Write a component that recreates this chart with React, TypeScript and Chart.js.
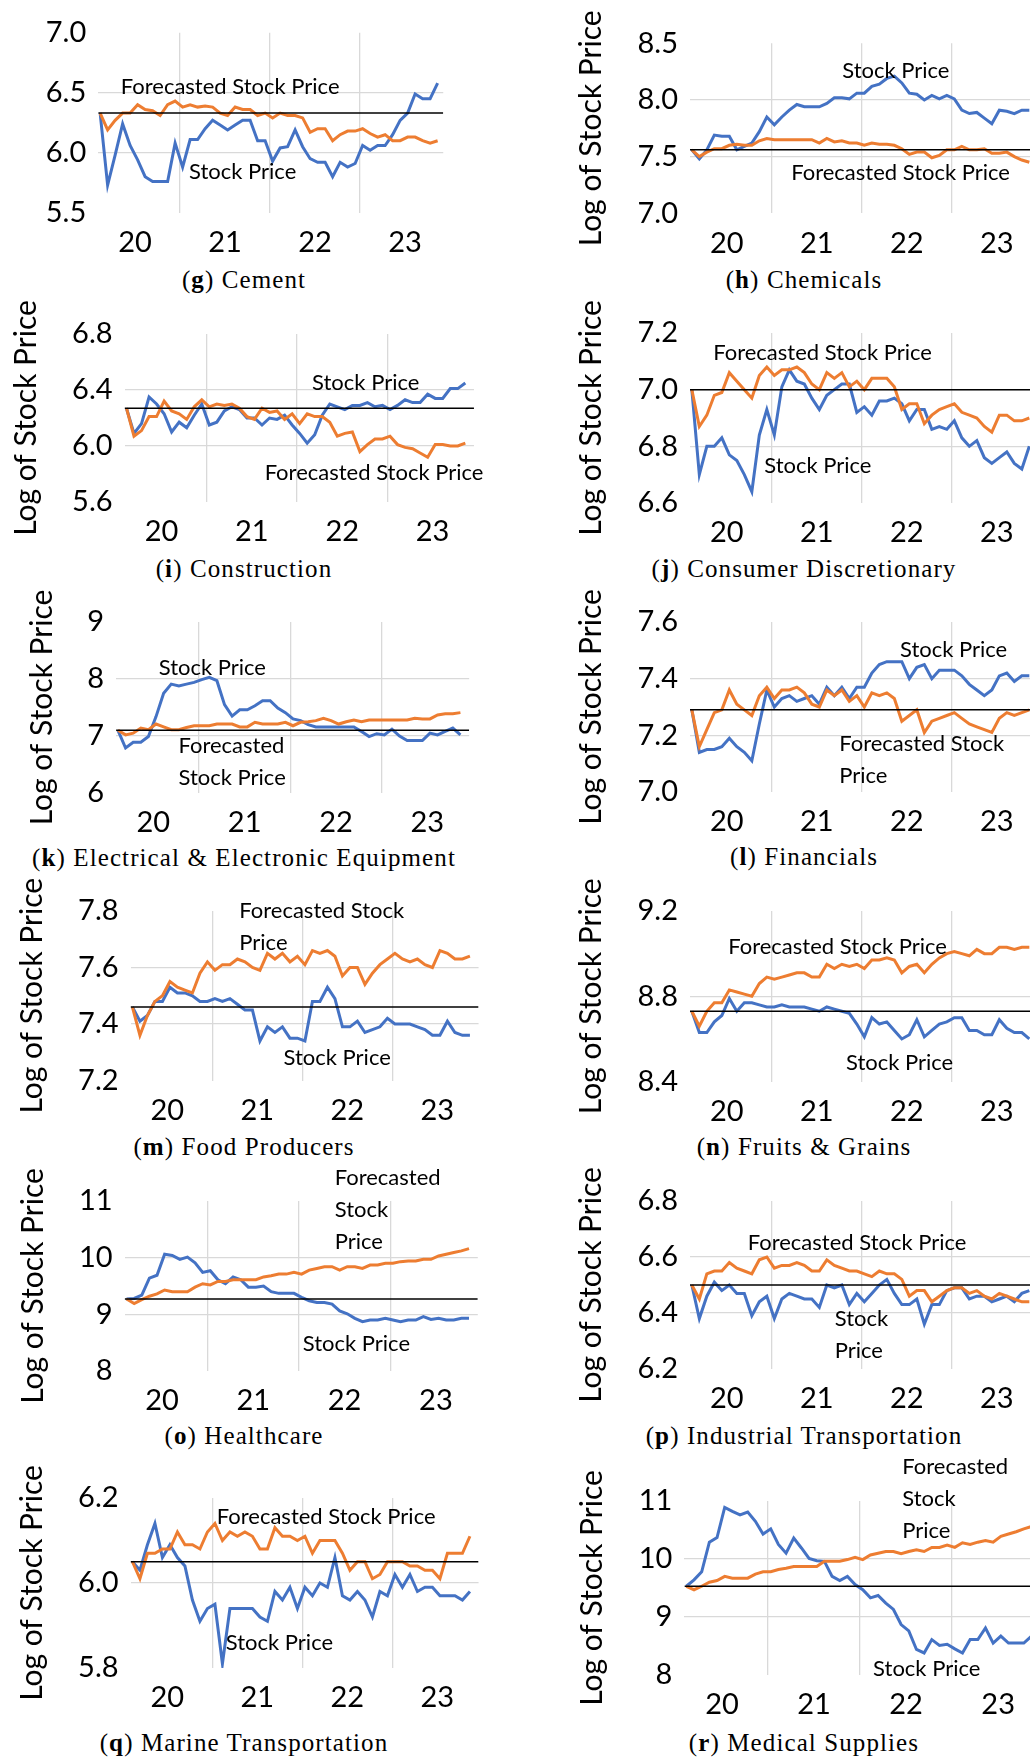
import React, { useEffect, useRef } from 'react';
import { Chart, registerables } from 'chart.js';
Chart.register(...registerables);

const BLUE = '#4472C4';
const ORANGE = '#ED7D31';
const GRID = '#D9D9D9';
const CLEAR = 'rgba(0,0,0,0)';

// x axis: months since Jan 2020; year labels centred between year boundaries
const YEAR_LABELS = ['20', '21', '22', '23'];
const YEAR_MID = [6, 18, 30, 42];
const YEAR_BOUNDS = [12, 24, 36];
const FIRST_MONTH = 1.35;
const X_MIN = 1.1;

// ---------------- data (log of stock price) ----------------
const cementStock = [6.33, 5.73, 5.98, 6.24, 6.06, 5.94, 5.8, 5.76, 5.76, 5.76, 6.08, 5.88, 6.11, 6.11, 6.2, 6.27, 6.23, 6.19, 6.23, 6.27, 6.27, 6.1, 6.1, 5.93, 6.04, 6.05, 6.19, 6.05, 5.95, 5.92, 5.92, 5.8, 5.92, 5.88, 5.91, 6.06, 6.02, 6.06, 6.06, 6.15, 6.27, 6.33, 6.49, 6.45, 6.45, 6.58];
const cementForecast = [6.33, 6.19, 6.27, 6.33, 6.33, 6.4, 6.36, 6.35, 6.31, 6.4, 6.43, 6.38, 6.4, 6.38, 6.39, 6.38, 6.33, 6.31, 6.38, 6.36, 6.36, 6.31, 6.33, 6.29, 6.33, 6.31, 6.31, 6.29, 6.17, 6.2, 6.2, 6.1, 6.15, 6.18, 6.18, 6.2, 6.16, 6.13, 6.15, 6.1, 6.1, 6.13, 6.13, 6.1, 6.08, 6.1];
const cementTicks = [5.5, 6.0, 6.5, 7.0];

const chemStock = [7.56, 7.48, 7.56, 7.69, 7.68, 7.68, 7.56, 7.59, 7.62, 7.72, 7.85, 7.78, 7.85, 7.91, 7.96, 7.94, 7.94, 7.94, 7.97, 8.02, 8.02, 8.01, 8.06, 8.06, 8.12, 8.14, 8.19, 8.21, 8.15, 8.06, 8.05, 8.0, 8.04, 8.01, 8.04, 8.01, 7.91, 7.88, 7.89, 7.84, 7.79, 7.91, 7.9, 7.88, 7.91, 7.91];
const chemForecast = [7.56, 7.5, 7.54, 7.57, 7.57, 7.6, 7.61, 7.6, 7.6, 7.64, 7.66, 7.65, 7.65, 7.65, 7.65, 7.65, 7.65, 7.62, 7.66, 7.63, 7.64, 7.62, 7.62, 7.6, 7.62, 7.61, 7.61, 7.6, 7.57, 7.52, 7.54, 7.54, 7.49, 7.51, 7.56, 7.56, 7.59, 7.56, 7.56, 7.57, 7.53, 7.53, 7.54, 7.5, 7.47, 7.45];
const chemTicks = [7.0, 7.5, 8.0, 8.5];

const constrStock = [6.27, 6.09, 6.16, 6.35, 6.3, 6.23, 6.1, 6.17, 6.13, 6.22, 6.3, 6.15, 6.17, 6.25, 6.28, 6.26, 6.2, 6.2, 6.15, 6.2, 6.19, 6.22, 6.15, 6.09, 6.02, 6.08, 6.22, 6.3, 6.28, 6.26, 6.29, 6.29, 6.31, 6.28, 6.29, 6.26, 6.29, 6.33, 6.31, 6.31, 6.37, 6.34, 6.34, 6.41, 6.41, 6.45];
const constrForecast = [6.27, 6.07, 6.11, 6.21, 6.21, 6.32, 6.25, 6.23, 6.19, 6.28, 6.33, 6.28, 6.3, 6.29, 6.3, 6.27, 6.21, 6.19, 6.27, 6.24, 6.25, 6.19, 6.23, 6.16, 6.23, 6.21, 6.21, 6.17, 6.07, 6.09, 6.1, 5.96, 6.01, 6.05, 6.05, 6.07, 6.01, 5.99, 5.98, 5.95, 5.92, 6.01, 6.01, 6.0, 6.0, 6.02];
const constrTicks = [5.6, 6.0, 6.4, 6.8];

const consStock = [7.0, 6.7, 6.8, 6.8, 6.83, 6.77, 6.75, 6.7, 6.64, 6.84, 6.93, 6.84, 7.01, 7.07, 7.03, 7.02, 6.97, 6.93, 6.98, 7.0, 7.02, 7.02, 6.92, 6.94, 6.91, 6.96, 6.96, 6.97, 6.95, 6.89, 6.93, 6.93, 6.86, 6.87, 6.86, 6.89, 6.83, 6.8, 6.82, 6.76, 6.74, 6.76, 6.78, 6.74, 6.72, 6.8];
const consForecast = [7.0, 6.87, 6.91, 6.98, 6.99, 7.06, 7.03, 7.0, 6.97, 7.05, 7.08, 7.05, 7.07, 7.07, 7.08, 7.06, 7.02, 7.0, 7.06, 7.04, 7.06, 7.01, 7.03, 7.0, 7.04, 7.04, 7.04, 7.01, 6.93, 6.95, 6.95, 6.88, 6.91, 6.93, 6.94, 6.95, 6.92, 6.91, 6.9, 6.87, 6.85, 6.91, 6.91, 6.89, 6.89, 6.9];
const consTicks = [6.6, 6.8, 7.0, 7.2];

const elecStock = [7.1, 6.79, 6.89, 6.89, 6.99, 7.34, 7.75, 7.91, 7.88, 7.91, 7.94, 7.99, 8.03, 7.97, 7.55, 7.35, 7.46, 7.46, 7.53, 7.62, 7.62, 7.49, 7.41, 7.3, 7.27, 7.2, 7.16, 7.16, 7.16, 7.16, 7.16, 7.16, 7.08, 6.99, 7.04, 7.02, 7.12, 7.0, 6.92, 6.92, 6.92, 7.05, 7.02, 7.08, 7.14, 7.02];
const elecForecast = [7.1, 7.02, 7.05, 7.14, 7.11, 7.21, 7.16, 7.11, 7.11, 7.15, 7.18, 7.18, 7.18, 7.21, 7.21, 7.21, 7.16, 7.16, 7.24, 7.21, 7.21, 7.21, 7.24, 7.18, 7.24, 7.25, 7.27, 7.31, 7.27, 7.21, 7.25, 7.28, 7.25, 7.28, 7.28, 7.28, 7.28, 7.28, 7.28, 7.31, 7.3, 7.3, 7.37, 7.39, 7.39, 7.41];
const elecTicks = [6, 7, 8, 9];

const finStock = [7.29, 7.14, 7.15, 7.15, 7.16, 7.19, 7.16, 7.14, 7.11, 7.24, 7.36, 7.3, 7.33, 7.34, 7.32, 7.33, 7.34, 7.31, 7.37, 7.34, 7.37, 7.33, 7.37, 7.37, 7.42, 7.45, 7.46, 7.46, 7.46, 7.4, 7.44, 7.45, 7.4, 7.43, 7.43, 7.43, 7.41, 7.38, 7.36, 7.34, 7.36, 7.41, 7.42, 7.39, 7.41, 7.41];
const finForecast = [7.29, 7.16, 7.22, 7.28, 7.29, 7.36, 7.31, 7.29, 7.27, 7.34, 7.37, 7.33, 7.36, 7.36, 7.37, 7.35, 7.31, 7.3, 7.36, 7.34, 7.36, 7.32, 7.34, 7.3, 7.35, 7.34, 7.35, 7.33, 7.25, 7.27, 7.29, 7.21, 7.25, 7.26, 7.27, 7.28, 7.26, 7.24, 7.23, 7.22, 7.21, 7.26, 7.28, 7.27, 7.28, 7.29];
const finTicks = [7.0, 7.2, 7.4, 7.6];

const foodStock = [7.46, 7.41, 7.43, 7.48, 7.48, 7.53, 7.51, 7.51, 7.5, 7.48, 7.48, 7.49, 7.48, 7.49, 7.47, 7.45, 7.45, 7.34, 7.39, 7.37, 7.39, 7.35, 7.35, 7.34, 7.48, 7.48, 7.53, 7.49, 7.39, 7.39, 7.41, 7.37, 7.38, 7.39, 7.42, 7.4, 7.4, 7.4, 7.39, 7.38, 7.36, 7.36, 7.41, 7.37, 7.36, 7.36];
const foodForecast = [7.46, 7.36, 7.43, 7.48, 7.5, 7.55, 7.53, 7.52, 7.51, 7.58, 7.62, 7.59, 7.61, 7.61, 7.63, 7.62, 7.6, 7.59, 7.65, 7.63, 7.65, 7.62, 7.64, 7.61, 7.66, 7.65, 7.66, 7.64, 7.57, 7.6, 7.6, 7.54, 7.58, 7.61, 7.63, 7.65, 7.63, 7.62, 7.63, 7.61, 7.6, 7.66, 7.65, 7.63, 7.63, 7.64];
const foodTicks = [7.2, 7.4, 7.6, 7.8];

const fruitStock = [8.73, 8.63, 8.63, 8.68, 8.71, 8.79, 8.73, 8.77, 8.77, 8.76, 8.75, 8.75, 8.76, 8.75, 8.75, 8.75, 8.74, 8.73, 8.75, 8.74, 8.73, 8.72, 8.67, 8.61, 8.7, 8.67, 8.68, 8.64, 8.6, 8.62, 8.69, 8.61, 8.64, 8.67, 8.68, 8.7, 8.7, 8.64, 8.64, 8.62, 8.62, 8.69, 8.65, 8.63, 8.63, 8.6];
const fruitForecast = [8.73, 8.66, 8.73, 8.77, 8.77, 8.83, 8.82, 8.81, 8.8, 8.86, 8.89, 8.88, 8.89, 8.9, 8.91, 8.91, 8.89, 8.89, 8.95, 8.93, 8.95, 8.94, 8.95, 8.93, 8.97, 8.97, 8.98, 8.97, 8.91, 8.94, 8.95, 8.91, 8.95, 8.98, 9.0, 9.01, 9.0, 8.99, 9.02, 9.0, 9.0, 9.03, 9.03, 9.02, 9.03, 9.03];
const fruitTicks = [8.4, 8.8, 9.2];

const healthStock = [9.27, 9.28, 9.34, 9.64, 9.69, 10.06, 10.04, 9.97, 10.01, 9.91, 9.74, 9.77, 9.61, 9.54, 9.66, 9.61, 9.48, 9.48, 9.5, 9.4, 9.37, 9.37, 9.37, 9.3, 9.24, 9.21, 9.21, 9.18, 9.06, 9.01, 8.93, 8.87, 8.9, 8.9, 8.93, 8.9, 8.87, 8.9, 8.9, 8.96, 8.91, 8.93, 8.9, 8.9, 8.93, 8.93];
const healthForecast = [9.27, 9.19, 9.26, 9.32, 9.36, 9.43, 9.4, 9.4, 9.4, 9.48, 9.54, 9.52, 9.58, 9.58, 9.61, 9.61, 9.61, 9.61, 9.66, 9.68, 9.71, 9.71, 9.74, 9.71, 9.78, 9.81, 9.84, 9.84, 9.78, 9.84, 9.84, 9.81, 9.87, 9.87, 9.9, 9.9, 9.93, 9.94, 9.94, 9.97, 9.97, 10.03, 10.06, 10.09, 10.12, 10.16];
const healthTicks = [8, 9, 10, 11];

const indStock = [6.5, 6.38, 6.46, 6.51, 6.48, 6.5, 6.47, 6.47, 6.39, 6.44, 6.46, 6.38, 6.45, 6.47, 6.46, 6.45, 6.45, 6.42, 6.5, 6.49, 6.5, 6.43, 6.47, 6.44, 6.47, 6.5, 6.52, 6.47, 6.43, 6.43, 6.45, 6.36, 6.43, 6.43, 6.48, 6.49, 6.49, 6.45, 6.46, 6.46, 6.44, 6.45, 6.46, 6.44, 6.47, 6.48];
const indForecast = [6.5, 6.45, 6.54, 6.55, 6.55, 6.58, 6.56, 6.55, 6.54, 6.59, 6.6, 6.56, 6.57, 6.57, 6.58, 6.57, 6.55, 6.55, 6.59, 6.57, 6.56, 6.55, 6.55, 6.54, 6.53, 6.55, 6.54, 6.54, 6.52, 6.46, 6.48, 6.48, 6.44, 6.46, 6.48, 6.49, 6.49, 6.47, 6.48, 6.46, 6.45, 6.47, 6.46, 6.45, 6.44, 6.44];
const indTicks = [6.2, 6.4, 6.6, 6.8];

const marineStock = [6.05, 6.03, 6.09, 6.14, 6.06, 6.09, 6.06, 6.04, 5.96, 5.91, 5.94, 5.95, 5.81, 5.94, 5.94, 5.94, 5.94, 5.92, 5.91, 5.98, 5.96, 5.99, 5.94, 5.99, 5.97, 6.0, 5.99, 6.06, 5.97, 5.96, 5.98, 5.96, 5.92, 5.98, 5.97, 6.02, 5.99, 6.02, 5.98, 5.99, 5.99, 5.97, 5.97, 5.97, 5.96, 5.98];
const marineForecast = [6.05, 6.01, 6.07, 6.07, 6.08, 6.08, 6.12, 6.09, 6.09, 6.08, 6.12, 6.14, 6.1, 6.12, 6.11, 6.12, 6.11, 6.08, 6.08, 6.13, 6.11, 6.11, 6.1, 6.11, 6.07, 6.1, 6.1, 6.1, 6.07, 6.03, 6.05, 6.05, 6.01, 6.02, 6.05, 6.05, 6.05, 6.04, 6.04, 6.03, 6.03, 6.01, 6.07, 6.07, 6.07, 6.11];
const marineTicks = [5.8, 6.0, 6.2];

const medStock = [9.53, 9.64, 9.78, 10.29, 10.37, 10.89, 10.82, 10.76, 10.81, 10.65, 10.43, 10.52, 10.25, 10.1, 10.36, 10.19, 10.01, 9.97, 9.96, 9.7, 9.63, 9.7, 9.56, 9.47, 9.33, 9.37, 9.24, 9.13, 8.87, 8.76, 8.44, 8.38, 8.61, 8.51, 8.53, 8.45, 8.38, 8.61, 8.61, 8.81, 8.55, 8.67, 8.55, 8.55, 8.55, 8.67];
const medForecast = [9.53, 9.47, 9.53, 9.6, 9.63, 9.7, 9.67, 9.67, 9.67, 9.74, 9.78, 9.78, 9.82, 9.84, 9.87, 9.87, 9.87, 9.87, 9.96, 9.96, 9.96, 9.99, 10.03, 9.99, 10.07, 10.1, 10.13, 10.13, 10.09, 10.13, 10.16, 10.13, 10.2, 10.2, 10.24, 10.2, 10.28, 10.25, 10.29, 10.32, 10.29, 10.39, 10.43, 10.47, 10.52, 10.56];
const medTicks = [8, 9, 10, 11];

// starting level (horizontal reference line)
const BASELINES = { g: 6.33, h: 7.56, i: 6.27, j: 7.0, k: 7.1, l: 7.29, m: 7.46, n: 8.73, o: 9.27, p: 6.5, q: 6.05, r: 9.53 };

type Label = { lines: string[]; x: number; y: number };
type Geo = { col: 0 | 1; m0: number; mw: number; yTop: number; yBot: number; titleX: number | null; xMax: number; capY: number };
type Panel = { letter: string; name: string; stock: number[]; forecast: number[]; base: number; ticks: number[]; dec: number; labels: Label[]; geo: Geo };

const PANELS: Panel[] = [
  { letter: 'g', name: 'Cement', stock: cementStock, forecast: cementForecast, base: BASELINES.g, ticks: cementTicks, dec: 1,
    labels: [{ lines: ['Forecasted Stock Price'], x: 4.1, y: 6.55 }, { lines: ['Stock Price'], x: 13.2, y: 5.84 }],
    geo: { col: 0, m0: 90, mw: 7.5, yTop: 32.7, yBot: 212.7, titleX: null, xMax: 47.1, capY: 280 } },
  { letter: 'h', name: 'Chemicals', stock: chemStock, forecast: chemForecast, base: BASELINES.h, ticks: chemTicks, dec: 1,
    labels: [{ lines: ['Stock Price'], x: 21.4, y: 8.26 }, { lines: ['Forecasted Stock Price'], x: 14.6, y: 7.36 }],
    geo: { col: 1, m0: 681.7, mw: 7.5, yTop: 43.3, yBot: 213.3, titleX: 591, xMax: 47.5, capY: 280 } },
  { letter: 'i', name: 'Construction', stock: constrStock, forecast: constrForecast, base: BASELINES.i, ticks: constrTicks, dec: 1,
    labels: [{ lines: ['Stock Price'], x: 26.0, y: 6.45 }, { lines: ['Forecasted Stock Price'], x: 19.7, y: 5.81 }],
    geo: { col: 0, m0: 116.3, mw: 7.53, yTop: 334, yBot: 502, titleX: 26, xMax: 47.5, capY: 568.3 } },
  { letter: 'j', name: 'Consumer Discretionary', stock: consStock, forecast: consForecast, base: BASELINES.j, ticks: consTicks, dec: 1,
    labels: [{ lines: ['Forecasted Stock Price'], x: 4.2, y: 7.13 }, { lines: ['Stock Price'], x: 11.0, y: 6.73 }],
    geo: { col: 1, m0: 681.7, mw: 7.5, yTop: 332.7, yBot: 502.7, titleX: 591, xMax: 47.5, capY: 568.3 } },
  { letter: 'k', name: 'Electrical & Electronic Equipment', stock: elecStock, forecast: elecForecast, base: BASELINES.k, ticks: elecTicks, dec: 0,
    labels: [{ lines: ['Stock Price'], x: 6.7, y: 8.19 }, { lines: ['Forecasted', 'Stock Price'], x: 9.3, y: 6.82 }],
    geo: { col: 0, m0: 107.7, mw: 7.61, yTop: 621.5, yBot: 792.5, titleX: 42.7, xMax: 47.5, capY: 857.5 } },
  { letter: 'l', name: 'Financials', stock: finStock, forecast: finForecast, base: BASELINES.l, ticks: finTicks, dec: 1,
    labels: [{ lines: ['Stock Price'], x: 29.1, y: 7.5 }, { lines: ['Forecasted Stock', 'Price'], x: 21.0, y: 7.17 }],
    geo: { col: 1, m0: 681.7, mw: 7.5, yTop: 622.3, yBot: 792.3, titleX: 591, xMax: 47.5, capY: 857 } },
  { letter: 'm', name: 'Food Producers', stock: foodStock, forecast: foodForecast, base: BASELINES.m, ticks: foodTicks, dec: 1,
    labels: [{ lines: ['Forecasted Stock', 'Price'], x: 15.6, y: 7.8 }, { lines: ['Stock Price'], x: 21.5, y: 7.28 }],
    geo: { col: 0, m0: 122.3, mw: 7.5, yTop: 910.5, yBot: 1080, titleX: 32.7, xMax: 47.5, capY: 1146.7 } },
  { letter: 'n', name: 'Fruits & Grains', stock: fruitStock, forecast: fruitForecast, base: BASELINES.n, ticks: fruitTicks, dec: 1,
    labels: [{ lines: ['Forecasted Stock Price'], x: 6.2, y: 9.03 }, { lines: ['Stock Price'], x: 21.9, y: 8.49 }],
    geo: { col: 1, m0: 681.7, mw: 7.5, yTop: 910.7, yBot: 1081.3, titleX: 591, xMax: 47.5, capY: 1146.7 } },
  { letter: 'o', name: 'Healthcare', stock: healthStock, forecast: healthForecast, base: BASELINES.o, ticks: healthTicks, dec: 0,
    labels: [{ lines: ['Forecasted', 'Stock', 'Price'], x: 28.7, y: 11.4 }, { lines: ['Stock Price'], x: 24.5, y: 8.48 }],
    geo: { col: 0, m0: 116.3, mw: 7.61, yTop: 1201, yBot: 1371, titleX: 33.7, xMax: 47.5, capY: 1435.5 } },
  { letter: 'p', name: 'Industrial Transportation', stock: indStock, forecast: indForecast, base: BASELINES.p, ticks: indTicks, dec: 1,
    labels: [{ lines: ['Forecasted Stock Price'], x: 8.8, y: 6.65 }, { lines: ['Stock', 'Price'], x: 20.4, y: 6.38 }],
    geo: { col: 1, m0: 681.7, mw: 7.5, yTop: 1201.3, yBot: 1369.3, titleX: 591, xMax: 47.5, capY: 1435.5 } },
  { letter: 'q', name: 'Marine Transportation', stock: marineStock, forecast: marineForecast, base: BASELINES.q, ticks: marineTicks, dec: 1,
    labels: [{ lines: ['Forecasted Stock Price'], x: 12.6, y: 6.155 }, { lines: ['Stock Price'], x: 13.8, y: 5.86 }],
    geo: { col: 0, m0: 122.3, mw: 7.5, yTop: 1497.7, yBot: 1667.7, titleX: 32.7, xMax: 47.5, capY: 1742.5 } },
  { letter: 'r', name: 'Medical Supplies', stock: medStock, forecast: medForecast, base: BASELINES.r, ticks: medTicks, dec: 0,
    labels: [{ lines: ['Forecasted', 'Stock', 'Price'], x: 29.5, y: 11.58 }, { lines: ['Stock Price'], x: 25.7, y: 8.11 }],
    geo: { col: 1, m0: 676, mw: 7.67, yTop: 1501.3, yBot: 1675.3, titleX: 592.7, xMax: 47.5, capY: 1742.5 } },
];

const SANS = 'Lato';
const TITLE_SIZE = 30;
const X_TICKS = [...YEAR_MID, ...YEAR_BOUNDS].sort((a, b) => a - b);

function PanelChart({ p }: { p: Panel }) {
  const ref = useRef<HTMLCanvasElement>(null);
  const g = p.geo;
  const cLeft = g.col === 0 ? 0 : 515;
  const cW = g.col === 0 ? 515 : 530;
  const cTop = Math.max(0, g.yTop - 64);
  const cH = Math.round(g.yBot + 56 - cTop);
  const plotLeft = g.m0 + X_MIN * g.mw;
  const plotRight = g.m0 + g.xMax * g.mw;

  useEffect(() => {
    const canvas = ref.current;
    if (!canvas) return;
    const labels = p.labels;
    const annot = {
      id: 'annot',
      afterDatasetsDraw(chart: any) {
        const { ctx, scales } = chart;
        ctx.save();
        ctx.font = `22px ${SANS}`;
        ctx.fillStyle = '#000';
        ctx.textAlign = 'left';
        ctx.textBaseline = 'middle';
        labels.forEach((l) => {
          const px = scales.x.getPixelForValue(l.x);
          const py = scales.y.getPixelForValue(l.y);
          l.lines.forEach((t, k) => ctx.fillText(t, px, py + k * 32));
        });
        ctx.restore();
      },
    };
    const yMin = p.ticks[0];
    const yMax = p.ticks[p.ticks.length - 1];
    const nT = p.ticks.length;
    const chart = new Chart(canvas, {
      type: 'line',
      data: {
        datasets: [
          { data: [{ x: X_MIN, y: p.base }, { x: g.xMax, y: p.base }], borderColor: '#000', borderWidth: 1.5, pointRadius: 0 },
          { data: p.forecast.map((v, i) => ({ x: FIRST_MONTH + i, y: v })), borderColor: ORANGE, borderWidth: 3, pointRadius: 0, tension: 0 },
          { data: p.stock.map((v, i) => ({ x: FIRST_MONTH + i, y: v })), borderColor: BLUE, borderWidth: 3, pointRadius: 0, tension: 0 },
        ],
      },
      options: {
        animation: false,
        responsive: false,
        devicePixelRatio: 1,
        events: [],
        layout: { padding: { left: 0, top: g.yTop - cTop, right: cLeft + cW - plotRight, bottom: 0 } },
        plugins: { legend: { display: false }, tooltip: { enabled: false } },
        scales: {
          x: {
            type: 'linear',
            min: X_MIN,
            max: g.xMax,
            afterBuildTicks: (s: any) => { s.ticks = X_TICKS.map((v) => ({ value: v })); },
            afterFit: (s: any) => { s.height = cTop + cH - g.yBot; },
            ticks: {
              autoSkip: false,
              maxRotation: 0,
              padding: 12.6,
              color: '#000',
              font: { family: SANS, size: 29 },
              callback: (v: any) => { const k = YEAR_MID.indexOf(Number(v)); return k >= 0 ? YEAR_LABELS[k] : ''; },
            },
            grid: {
              drawTicks: false,
              lineWidth: 1.3,
              color: (c: any) => (c.tick && YEAR_BOUNDS.includes(c.tick.value) ? GRID : CLEAR),
            },
            border: { display: false },
          },
          y: {
            type: 'linear',
            min: yMin,
            max: yMax,
            afterBuildTicks: (s: any) => { s.ticks = p.ticks.map((v) => ({ value: v })); },
            afterFit: (s: any) => { s.width = plotLeft - cLeft; },
            ticks: {
              padding: 12,
              color: '#000',
              font: { family: SANS, size: 29 },
              callback: (v: any) => Number(v).toFixed(p.dec),
            },
            grid: {
              drawTicks: false,
              lineWidth: 1.3,
              color: (c: any) => (c.index === 0 || c.index === nT - 1 ? CLEAR : GRID),
            },
            border: { display: false },
            title: {
              display: g.titleX !== null,
              text: 'Log of Stock Price',
              color: '#000',
              font: { family: SANS, size: TITLE_SIZE, lineHeight: 1.2 },
              padding: { top: g.titleX !== null ? g.titleX - cLeft - TITLE_SIZE * 0.6 : 0, bottom: 0 },
            },
          },
        },
      },
      plugins: [annot],
    } as any);
    return () => chart.destroy();
  }, []);

  return (
    <canvas
      ref={ref}
      width={cW}
      height={cH}
      style={{ position: 'absolute', left: cLeft, top: cTop, width: cW, height: cH }}
    />
  );
}

function Caption({ p }: { p: Panel }) {
  const cx = p.geo.col === 0 ? 244 : 804;
  return (
    <div
      style={{
        position: 'absolute',
        left: cx,
        top: p.geo.capY - 12.6,
        transform: 'translateX(-50%)',
        fontFamily: '"Liberation Serif", serif',
        fontSize: 25,
        lineHeight: '25px',
        letterSpacing: '1.1px',
        whiteSpace: 'nowrap',
        color: '#000',
      }}
    >
      (<b>{p.letter}</b>) {p.name}
    </div>
  );
}

export default function App() {
  return (
    <div style={{ position: 'absolute', left: 0, top: 0, width: 1030, height: 1760, overflow: 'hidden', background: '#fff' }}>
      {PANELS.map((p) => (
        <Caption key={'c' + p.letter} p={p} />
      ))}
      {PANELS.map((p) => (
        <PanelChart key={p.letter} p={p} />
      ))}
    </div>
  );
}
